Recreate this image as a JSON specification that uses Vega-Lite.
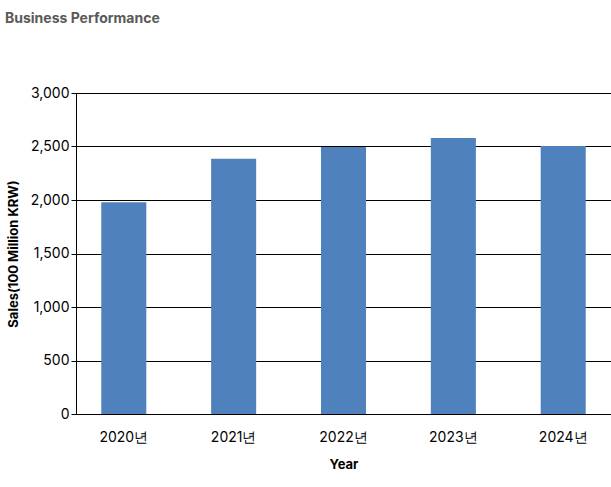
{
  "$schema": "https://vega.github.io/schema/vega-lite/v6.json",
  "autosize": {"type": "none"},
  "padding": {"left": 76, "top": 93, "right": 0, "bottom": 73},
  "width": 535,
  "height": 321,
  "title": {
    "text": "Business Performance",
    "anchor": "start",
    "frame": "group",
    "dx": -71,
    "offset": 60,
    "fontSize": 14,
    "fontWeight": "bold",
    "color": "#595959",
    "font": "Inter"
  },
  "data": {
    "values": [
      {"year": "2020년", "sales": 1980},
      {"year": "2021년", "sales": 2385},
      {"year": "2022년", "sales": 2495},
      {"year": "2023년", "sales": 2580},
      {"year": "2024년", "sales": 2505}
    ]
  },
  "mark": {"type": "bar", "color": "#4f81bd"},
  "encoding": {
    "x": {
      "field": "year",
      "type": "nominal",
      "title": "Year",
      "scale": {"paddingInner": 0.59, "paddingOuter": 0.23},
      "axis": {"labelAngle": 0, "ticks": false, "labelPadding": 16, "titlePadding": 14}
    },
    "y": {
      "field": "sales",
      "type": "quantitative",
      "title": "Sales(100 Million KRW)",
      "scale": {"domain": [0, 3000]},
      "axis": {"values": [0, 500, 1000, 1500, 2000, 2500, 3000], "titlePadding": 10}
    }
  },
  "config": {
    "font": "Inter",
    "view": {"stroke": null},
    "axis": {
      "domainColor": "#000000",
      "gridColor": "#000000",
      "gridOpacity": 1,
      "tickColor": "#000000",
      "labelColor": "#000000",
      "labelFontSize": 14,
      "titleFontSize": 13,
      "titleFontWeight": "bold",
      "titleColor": "#000000",
      "labelFont": "Inter",
      "titleFont": "Inter"
    },
    "axisX": {"grid": false}
  }
}
